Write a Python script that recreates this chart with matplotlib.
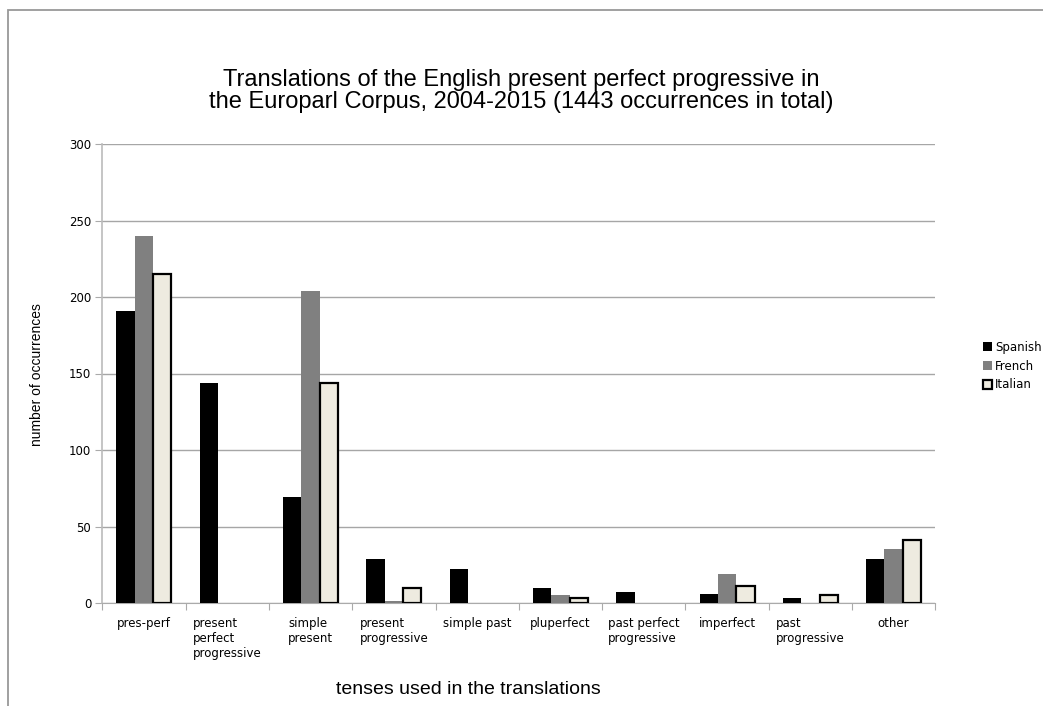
import numpy as np
import matplotlib.pyplot as plt
from matplotlib.patches import Rectangle

# categories on the x axis (tenses used in the translations)
tenses = ['pres-perf', 'present\nperfect\nprogressive', 'simple\npresent',
          'present\nprogressive', 'simple past', 'pluperfect',
          'past perfect\nprogressive', 'imperfect', 'past\nprogressive', 'other']

# counts per language (totals 510 + 504 + 429 = 1443)
spanish = [191, 144, 69, 29, 22, 10, 7, 6, 3, 29]
french = [240, 0, 204, 1, 0, 5, 0, 19, 0, 35]
italian = [215, 0, 144, 10, 0, 3, 0, 11, 5, 41]

languages = ['Spanish', 'French', 'Italian']
y_ticks = [0, 50, 100, 150, 200, 250, 300]

fig = plt.figure(figsize=(10.43, 7.06), dpi=100)
ax = fig.add_axes([102.3 / 1043, 1 - 603 / 706, (935.3 - 102.3) / 1043, (603 - 144) / 706])

x = np.arange(len(tenses))
w = 0.22
ax.bar(x - w, spanish, w, color='black', label=languages[0], zorder=3)
ax.bar(x, french, w, color='#808080', label=languages[1], zorder=3)
# no outline on empty bars
ital_lw = [1.6 if v > 0 else 0 for v in italian]
ax.bar(x + w, italian, w, color='#EEEBE0', edgecolor='black', linewidth=ital_lw,
       label=languages[2], zorder=3)

ax.set_xlim(-0.5, len(tenses) - 0.5)
ax.set_ylim(0, 300)
ax.set_yticks(y_ticks)
ax.tick_params(axis='y', length=5, color='#AAAAAA', labelsize=8.5, pad=3)

# ticks on category boundaries, labels centred below each group
ax.set_xticks(np.arange(len(tenses) + 1) - 0.5)
ax.set_xticklabels([])
ax.set_xticks(x, minor=True)
ax.set_xticklabels(tenses, minor=True, fontsize=8.5, va='top')
ax.tick_params(axis='x', which='major', length=5, color='#AAAAAA', direction='out')
ax.tick_params(axis='x', which='minor', length=0, pad=10)
for lab in ax.get_xticklabels(minor=True):
    lab.set_multialignment('left')
    lab.set_linespacing(1.2)

ax.grid(axis='y', color='#A6A6A6', linewidth=1, zorder=0)
for side in ['top', 'right']:
    ax.spines[side].set_visible(False)
ax.spines['left'].set_color('#BBBBBB')
ax.spines['bottom'].set_color('#AAAAAA')
ax.spines['left'].set_linewidth(1.2)

# title and axis labels
fig.text(0.5, 1 - 91 / 706, 'Translations of the English present perfect progressive in\n'
         'the Europarl Corpus, 2004-2015 (1443 occurrences in total)',
         ha='center', va='center', fontsize=17, family='Liberation Sans', linespacing=0.95)
fig.text(37 / 1043, 1 - 375 / 706, 'number of occurrences', rotation=90,
         ha='center', va='center', fontsize=10, family='Liberation Sans')
fig.text(468 / 1043, 1 - 690 / 706, 'tenses used in the translations',
         ha='center', va='center', fontsize=14, family='Liberation Sans')

leg = fig.legend(loc='center left', bbox_to_anchor=(977 / 1043, 1 - 366 / 706),
                 frameon=False, fontsize=8.5, handlelength=0.75, handleheight=0.75,
                 handletextpad=0.3, labelspacing=0.5, borderpad=0)

# outer chart border
fig.patches.append(Rectangle((8 / 1043, -0.1), 1.2, 1 - 10 / 706 + 0.1,
                             transform=fig.transFigure, fill=False,
                             edgecolor='#999999', linewidth=1.3))

fig.savefig('out.png', dpi=100)
